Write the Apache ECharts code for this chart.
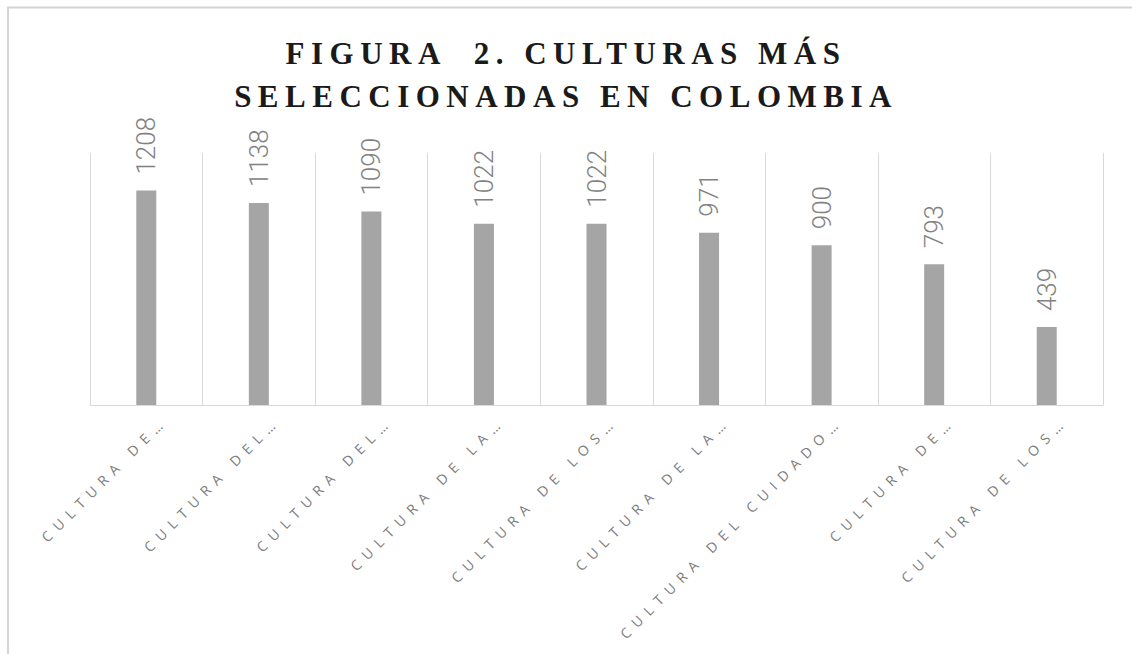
<!DOCTYPE html>
<html>
<head>
<meta charset="utf-8">
<script src="https://cdn.jsdelivr.net/npm/echarts@6/dist/echarts.min.js"></script>
<style>
html,body{margin:0;padding:0;background:#fff;}
#chart{width:1132px;height:654px;}
</style>
</head>
<body>
<div id="chart"></div>
<script>
const titleLines = ['FIGURA  2. CULTURAS MÁS', 'SELECCIONADAS EN COLOMBIA'];
const categories = [
  'CULTURA DE…',
  'CULTURA DEL…',
  'CULTURA DEL…',
  'CULTURA DE LA…',
  'CULTURA DE LOS…',
  'CULTURA DE LA…',
  'CULTURA DEL CUIDADO…',
  'CULTURA DE…',
  'CULTURA DE LOS…'
];
const values = [1208, 1138, 1090, 1022, 1022, 971, 900, 793, 439];

const chart = echarts.init(document.getElementById('chart'), null, {renderer: 'svg'});
chart.setOption({
  animation: false,
  backgroundColor: '#ffffff',
  title: {
    text: titleLines.join('\n'),
    left: 'center',
    top: 32,
    padding: [0, 0, 0, 18],
    textStyle: {
      fontFamily: '"Liberation Serif", serif',
      fontWeight: 'bold',
      fontSize: 31,
      lineHeight: 43,
      color: '#1a1a1a'
    }
  },
  graphic: [
    {type: 'line', shape: {x1: 7, y1: 7.5, x2: 1132, y2: 7.5}, style: {stroke: '#d4d4d4', lineWidth: 2}, silent: true},
    {type: 'line', shape: {x1: 8, y1: 7, x2: 8, y2: 654}, style: {stroke: '#d4d4d4', lineWidth: 2}, silent: true}
  ],
  grid: {left: 90, right: 29, top: 153, bottom: 249},
  xAxis: {
    type: 'category',
    data: categories,
    axisLine: {show: true, lineStyle: {color: '#d9d9d9', width: 1}},
    axisTick: {show: false},
    splitLine: {show: true, lineStyle: {color: '#d9d9d9', width: 1}},
    axisLabel: {
      interval: 0,
      rotate: 45,
      margin: -5,
      verticalAlign: 'top',
      padding: [19, 0, 0, 0],
      lineHeight: 14,
      fontFamily: '"Open Sans", sans-serif',
      fontSize: 14,
      color: '#7d7d7d'
    }
  },
  yAxis: {
    type: 'value',
    min: 0,
    max: 1420,
    show: false,
    splitLine: {show: false}
  },
  series: [{
    type: 'bar',
    data: values,
    barWidth: 20,
    itemStyle: {color: '#a5a5a5'},
    label: {
      show: true,
      position: 'top',
      distance: 16,
      rotate: 90,
      align: 'left',
      verticalAlign: 'middle',
      fontFamily: 'Roboto, sans-serif',
      fontWeight: 300,
      fontSize: 26,
      color: '#828282'
    }
  }]
});

function applySpacing() {
  document.querySelectorAll('#chart svg text').forEach(function (t) {
    const s = t.textContent;
    if (titleLines.indexOf(s) >= 0) {
      t.setAttribute('letter-spacing', '6.5');
      t.style.letterSpacing = '6.5px';
    } else if (categories.indexOf(s) >= 0) {
      t.setAttribute('letter-spacing', '7');
      t.style.letterSpacing = '7px';
    }
  });
}
chart.on('finished', applySpacing);
applySpacing();
setTimeout(applySpacing, 50);
setTimeout(applySpacing, 300);
</script>
</body>
</html>
